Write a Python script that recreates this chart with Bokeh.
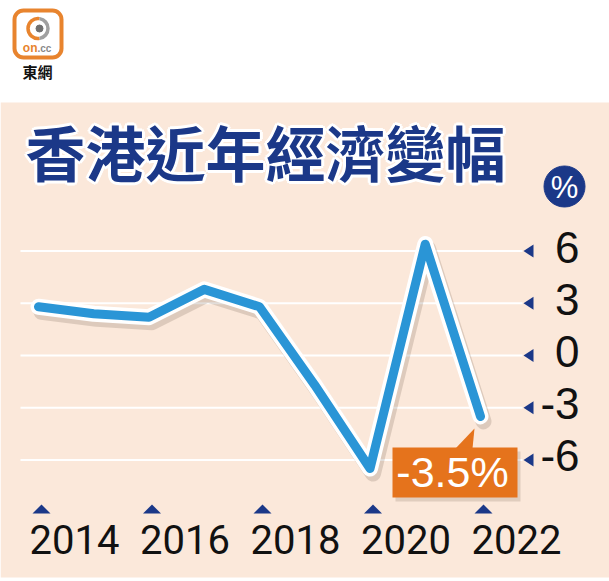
import math
from bokeh.plotting import figure
from bokeh.models import Range1d, BoxAnnotation
from bokeh.core.properties import value
from bokeh.embed import file_html
from bokeh.resources import INLINE

# ---------------- data ----------------
years = [2014, 2015, 2016, 2017, 2018, 2019, 2020, 2021, 2022]
growth = [2.8, 2.4, 2.2, 3.8, 2.8, -1.7, -6.5, 6.4, -3.5]
y_ticks = [6, 3, 0, -3, -6]
y_tick_labels = ["6", "3", "0", "-3", "-6"]
x_ticks = [2014, 2016, 2018, 2020, 2022]
x_tick_labels = ["2014", "2016", "2018", "2020", "2022"]
highlight_year = 2022
highlight_value = -3.5
highlight_label = "-3.5%"
title_text = "香港近年經濟變幅"
unit_text = "%"
logo_text = "東網"

# ---------------- layout (pixel geometry) ----------------
W, H = 609, 581
X0_PX, SX = 38.0, 55.25      # pixel of first year, pixels per year
Y0_PX, SY = 355.0, 17.4      # pixel of value 0, pixels per unit

def dx(px):
    return years[0] + (px - X0_PX) / SX

def dy(py):
    return (Y0_PX - py) / SY

def px_of(x):
    return X0_PX + (x - years[0]) * SX

def py_of(v):
    return Y0_PX - v * SY

NAVY = "#1B3888"
BLUE = "#2A95D6"
ORANGE = "#E5731C"
LOGO_OR = "#E8842E"
PEACH = "#FBE8DA"
CJK = value("Noto Sans CJK TC")

p = figure(width=W, height=H, x_range=Range1d(dx(0), dx(W)), y_range=Range1d(dy(H), dy(0)),
           min_border=0, toolbar_location=None, output_backend="svg",
           x_axis_location=None, y_axis_location=None)
p.grid.visible = False
p.outline_line_color = None
p.background_fill_color = "white"
p.border_fill_color = "white"

# peach panel
p.add_layout(BoxAnnotation(left=dx(0), right=dx(W), top=dy(102), bottom=dy(577),
                           fill_color=PEACH, fill_alpha=1, line_color=None, level="underlay"))

# ---------------- logo ----------------
p.add_layout(BoxAnnotation(left=dx(14), right=dx(61), top=dy(10), bottom=dy(57),
                           fill_color="white", fill_alpha=1, line_color=LOGO_OR, line_alpha=1,
                           line_width=4, border_radius=9, level="underlay"))
lx, ly = dx(37.5), dy(28)
p.arc(x=[lx], y=[ly], radius=10, radius_units="screen", start_angle=math.pi * 0.45,
      end_angle=math.pi * 1.55, line_color=LOGO_OR, line_width=3.5)
p.arc(x=[lx], y=[ly], radius=10, radius_units="screen", start_angle=-math.pi * 0.45,
      end_angle=math.pi * 0.45, line_color="#A0A0A0", line_width=3.5)
p.scatter(x=[lx + 1.5 / SX], y=[ly], size=7, color="#707070")
p.text(x=[dx(37)], y=[dy(47)], text=["on"], text_align="right", text_baseline="middle",
       text_font=value("Liberation Sans"), text_font_style="bold", text_font_size="12px",
       text_color=LOGO_OR)
p.text(x=[dx(37)], y=[dy(47.5)], text=[".cc"], text_align="left", text_baseline="middle",
       text_font=value("Liberation Sans"), text_font_style="bold", text_font_size="10px",
       text_color="#8A8A8A")
p.text(x=[dx(37)], y=[dy(71)], text=[logo_text], text_align="center", text_baseline="middle",
       text_font=CJK, text_font_style="bold", text_font_size="15px", text_color="#111111")

# ---------------- title with white outline ----------------
tx, ty = dx(25), dy(150)
offs = [(-3, 0), (3, 0), (0, -3), (0, 3), (-2, -2), (2, 2), (-2, 2), (2, -2)]
p.text(x=[tx] * len(offs), y=[ty] * len(offs), text=[title_text] * len(offs),
       x_offset=[o[0] for o in offs], y_offset=[o[1] for o in offs],
       text_align="left", text_baseline="middle", text_font=CJK, text_font_style="bold",
       text_font_size="60px", text_color="white")
p.text(x=[tx], y=[ty], text=[title_text], text_align="left", text_baseline="middle",
       text_font=CJK, text_font_style="bold", text_font_size="60px", text_color=NAVY)

# unit badge
p.scatter(x=[dx(564)], y=[dy(186)], size=41, color=NAVY)
p.text(x=[dx(564)], y=[dy(187)], text=[unit_text], text_align="center", text_baseline="middle",
       text_font=value("Liberation Sans"), text_font_size="31px", text_color="white")

# ---------------- grid lines ----------------
p.segment(x0=[dx(20)] * len(y_ticks), x1=[dx(522)] * len(y_ticks), y0=y_ticks, y1=y_ticks,
          line_color="white", line_width=2)

# y tick markers (left-pointing triangles) and labels
tri_xs = [[dx(523), dx(533), dx(533)] for _ in y_ticks]
tri_ys = [[v, v + 6.5 / SY, v - 6.5 / SY] for v in y_ticks]
p.patches(xs=tri_xs, ys=tri_ys, fill_color=NAVY, line_color=None)
p.text(x=[dx(579)] * len(y_ticks), y=[v + 4 / SY for v in y_ticks], text=y_tick_labels,
       text_align="right", text_baseline="middle", text_font=value("Liberation Sans"),
       text_font_size="44px", text_color="#111111")

# x tick markers (up-pointing triangles) and labels
xt_xs = [[x + 3 / SX - 9 / SX, x + 3 / SX + 9 / SX, x + 3 / SX] for x in x_ticks]
xt_ys = [[dy(513), dy(513), dy(504)] for _ in x_ticks]
p.patches(xs=xt_xs, ys=xt_ys, fill_color=NAVY, line_color=None)
p.text(x=[x - 9 / SX for x in x_ticks], y=[dy(539)] * len(x_ticks), text=x_tick_labels,
       text_align="left", text_baseline="middle", text_font=value("Roboto"),
       text_font_size="40px", text_color="#111111")

# ---------------- line ----------------
p.line(x=[x + 3 / SX for x in years], y=[v - 5 / SY for v in growth], line_color="#6b5544",
       line_alpha=0.2, line_width=16, line_join="round", line_cap="round")
p.line(x=years, y=growth, line_color="white", line_width=16, line_join="round", line_cap="round")
p.line(x=years, y=growth, line_color=BLUE, line_width=9, line_join="round", line_cap="round")

# ---------------- highlight callout ----------------
hx, hy = px_of(highlight_year), py_of(highlight_value)
p.quad(left=[dx(hx - 88 + 3)], right=[dx(hx + 37 + 3)], top=[dy(hy + 31 + 4)], bottom=[dy(hy + 81 + 4)],
       fill_color="#6b5544", fill_alpha=0.18, line_color=None)
p.patches(xs=[[dx(hx - 25), dx(hx - 8), dx(hx - 6)]], ys=[[dy(hy + 32), dy(hy + 32), dy(hy + 12)]],
          fill_color=ORANGE, line_color=None)
p.quad(left=[dx(hx - 88)], right=[dx(hx + 37)], top=[dy(hy + 31)], bottom=[dy(hy + 81)],
       fill_color=ORANGE, line_color=None)
p.text(x=[dx(hx - 28)], y=[dy(hy + 56)], text=[highlight_label], text_align="center",
       text_baseline="middle", text_font=value("Liberation Sans"), text_font_size="43px",
       text_color="white")

open("out.html", "w").write(file_html(p, INLINE))
